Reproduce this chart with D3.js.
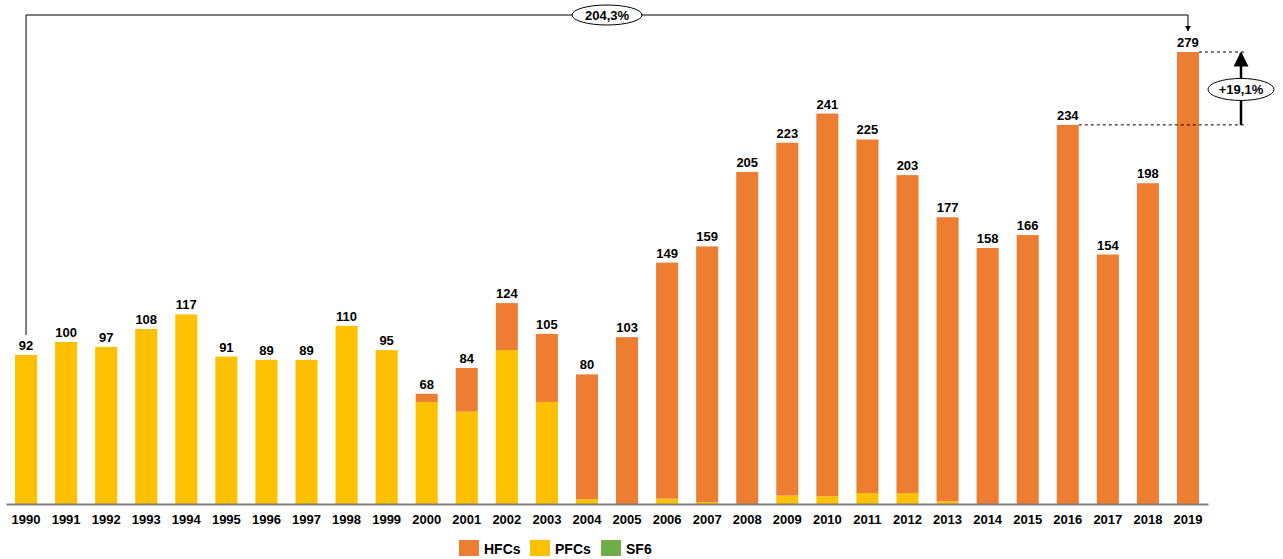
<!DOCTYPE html>
<html>
<head>
<meta charset="utf-8">
<script src="https://cdn.jsdelivr.net/npm/d3@7"></script>
<style>
  html, body { margin: 0; padding: 0; background: #fff; }
  svg { display: block; font-family: "Liberation Sans", Arial, sans-serif; }
</style>
</head>
<body>
<svg id="chart" width="1283" height="559"></svg>
<script>
// Fluorinated gas emissions by year, split into HFCs, PFCs and SF6
const years = ["1990","1991","1992","1993","1994","1995","1996","1997","1998","1999",
               "2000","2001","2002","2003","2004","2005","2006","2007","2008","2009",
               "2010","2011","2012","2013","2014","2015","2016","2017","2018","2019"];
const totals = [92,100,97,108,117,91,89,89,110,95,68,84,124,105,80,103,149,159,205,223,241,225,203,177,158,166,234,154,198,279];
const pfcs   = [92,100,97,108,117,91,89,89,110,95,63,57,95,63,3,0,3.3,1.2,0,5.2,4.8,6.8,6.8,1.7,0,0,0,0,0,0];
const sf6    = [0,0,0,0,0,0,0,0,0,0,0,0,0,0,0,0,0,0,0,0,0,0,0,0,0,0,0,0,0,0];
const hfcs   = totals.map((t, i) => +(t - pfcs[i] - sf6[i]).toFixed(1));

const seriesNames = ["HFCs", "PFCs", "SF6"];
const colors = { HFCs: "#ED7D31", PFCs: "#FFC000", SF6: "#70AD47" };

// Percent changes annotated above the bars
const changeTotal = "204,3%";
const changeLast = "+19,1%";

const rows = years.map((y, i) => ({ year: y, PFCs: pfcs[i], SF6: sf6[i], HFCs: hfcs[i] }));

const svg = d3.select("#chart");

const x = d3.scaleBand().domain(years).range([6, 1208]).paddingInner(0.45).paddingOuter(0.225);
const y = d3.scaleLinear().domain([0, 279]).range([504, 52]);

// Stack from the bottom: PFCs, SF6, HFCs
const stack = d3.stack().keys(["PFCs", "SF6", "HFCs"]);
const layers = stack(rows);

svg.append("g").selectAll("g")
  .data(layers)
  .join("g")
  .attr("fill", d => colors[d.key])
  .selectAll("rect")
  .data(d => d)
  .join("rect")
  .attr("x", d => x(d.data.year))
  .attr("width", x.bandwidth())
  .attr("y", d => y(d[1]))
  .attr("height", d => Math.max(0, y(d[0]) - y(d[1])));

// Baseline axis
const axis = d3.axisBottom(x).tickSize(0).tickPadding(11);
const gx = svg.append("g").attr("transform", "translate(0,504)").call(axis);
gx.select(".domain").attr("stroke", "#808080").attr("stroke-width", 2);
gx.selectAll("text").attr("font-size", 13).attr("font-weight", "bold")
  .attr("fill", "#000").attr("font-family", "Liberation Sans, Arial, sans-serif");

// Total labels
svg.append("g").selectAll("text")
  .data(rows.map((r, i) => ({ year: r.year, total: totals[i] })))
  .join("text")
  .attr("x", d => x(d.year) + x.bandwidth() / 2)
  .attr("y", d => y(d.total) - 5)
  .attr("text-anchor", "middle")
  .attr("font-size", 13)
  .attr("font-weight", "bold")
  .text(d => d.total);

// Arrow marker
const defs = svg.append("defs");
defs.append("marker").attr("id", "arrow").attr("viewBox", "0 0 10 10")
  .attr("refX", 9).attr("refY", 5).attr("markerWidth", 6).attr("markerHeight", 6)
  .attr("orient", "auto-start-reverse")
  .append("path").attr("d", "M0,0 L10,5 L0,10 z").attr("fill", "#000");

// Long bracket from first to last year
const cx0 = x(years[0]) + x.bandwidth() / 2;
const cxN = x(years[years.length - 1]) + x.bandwidth() / 2;
const topY = 15;
svg.append("path")
  .attr("d", `M${cx0},${y(totals[0]) - 20} V${topY} H${cxN} V${y(totals[totals.length - 1]) - 21}`)
  .attr("fill", "none").attr("stroke", "#000").attr("stroke-width", 1)
  .attr("marker-end", "url(#arrow)");
const midX = 607;
svg.append("ellipse").attr("cx", midX).attr("cy", topY).attr("rx", 35).attr("ry", 10)
  .attr("fill", "#fff").attr("stroke", "#000").attr("stroke-width", 1);
svg.append("text").attr("x", midX).attr("y", topY + 4.5).attr("text-anchor", "middle")
  .attr("font-size", 13).attr("font-weight", "bold").attr("font-family", "Liberation Sans Narrow, Liberation Sans, Arial")
  .text(changeTotal);

// Change between 2016 and 2019
const i16 = years.indexOf("2016");
const iN = years.length - 1;
const arrowX = 1241;
const yHi = y(totals[iN]);
const yLo = y(totals[i16]);
svg.append("line").attr("x1", x(years[iN]) + x.bandwidth()).attr("x2", arrowX + 3)
  .attr("y1", yHi).attr("y2", yHi)
  .attr("stroke", "#000").attr("stroke-dasharray", "3,3");
svg.append("line").attr("x1", x(years[i16]) + x.bandwidth()).attr("x2", arrowX + 3)
  .attr("y1", yLo).attr("y2", yLo)
  .attr("stroke", "#000").attr("stroke-dasharray", "3,3");
svg.append("line").attr("x1", arrowX).attr("x2", arrowX)
  .attr("y1", yLo).attr("y2", yHi + 1)
  .attr("stroke", "#000").attr("stroke-width", 2.5)
  .attr("marker-end", "url(#arrow)");
const ey = (yHi + yLo) / 2 + 1;
svg.append("ellipse").attr("cx", arrowX).attr("cy", ey).attr("rx", 33).attr("ry", 11)
  .attr("fill", "#fff").attr("stroke", "#000").attr("stroke-width", 1);
svg.append("text").attr("x", arrowX).attr("y", ey + 4.5).attr("text-anchor", "middle")
  .attr("font-size", 13).attr("font-weight", "bold")
  .text(changeLast);

// Legend
const legendX = [459, 530, 601];
const lg = svg.append("g").selectAll("g")
  .data(seriesNames)
  .join("g")
  .attr("transform", (d, i) => `translate(${legendX[i]},540)`);
lg.append("rect").attr("width", 20).attr("height", 16).attr("fill", d => colors[d]);
lg.append("text").attr("x", 25).attr("y", 14).attr("font-size", 14).attr("font-weight", "bold").text(d => d);
</script>
</body>
</html>
